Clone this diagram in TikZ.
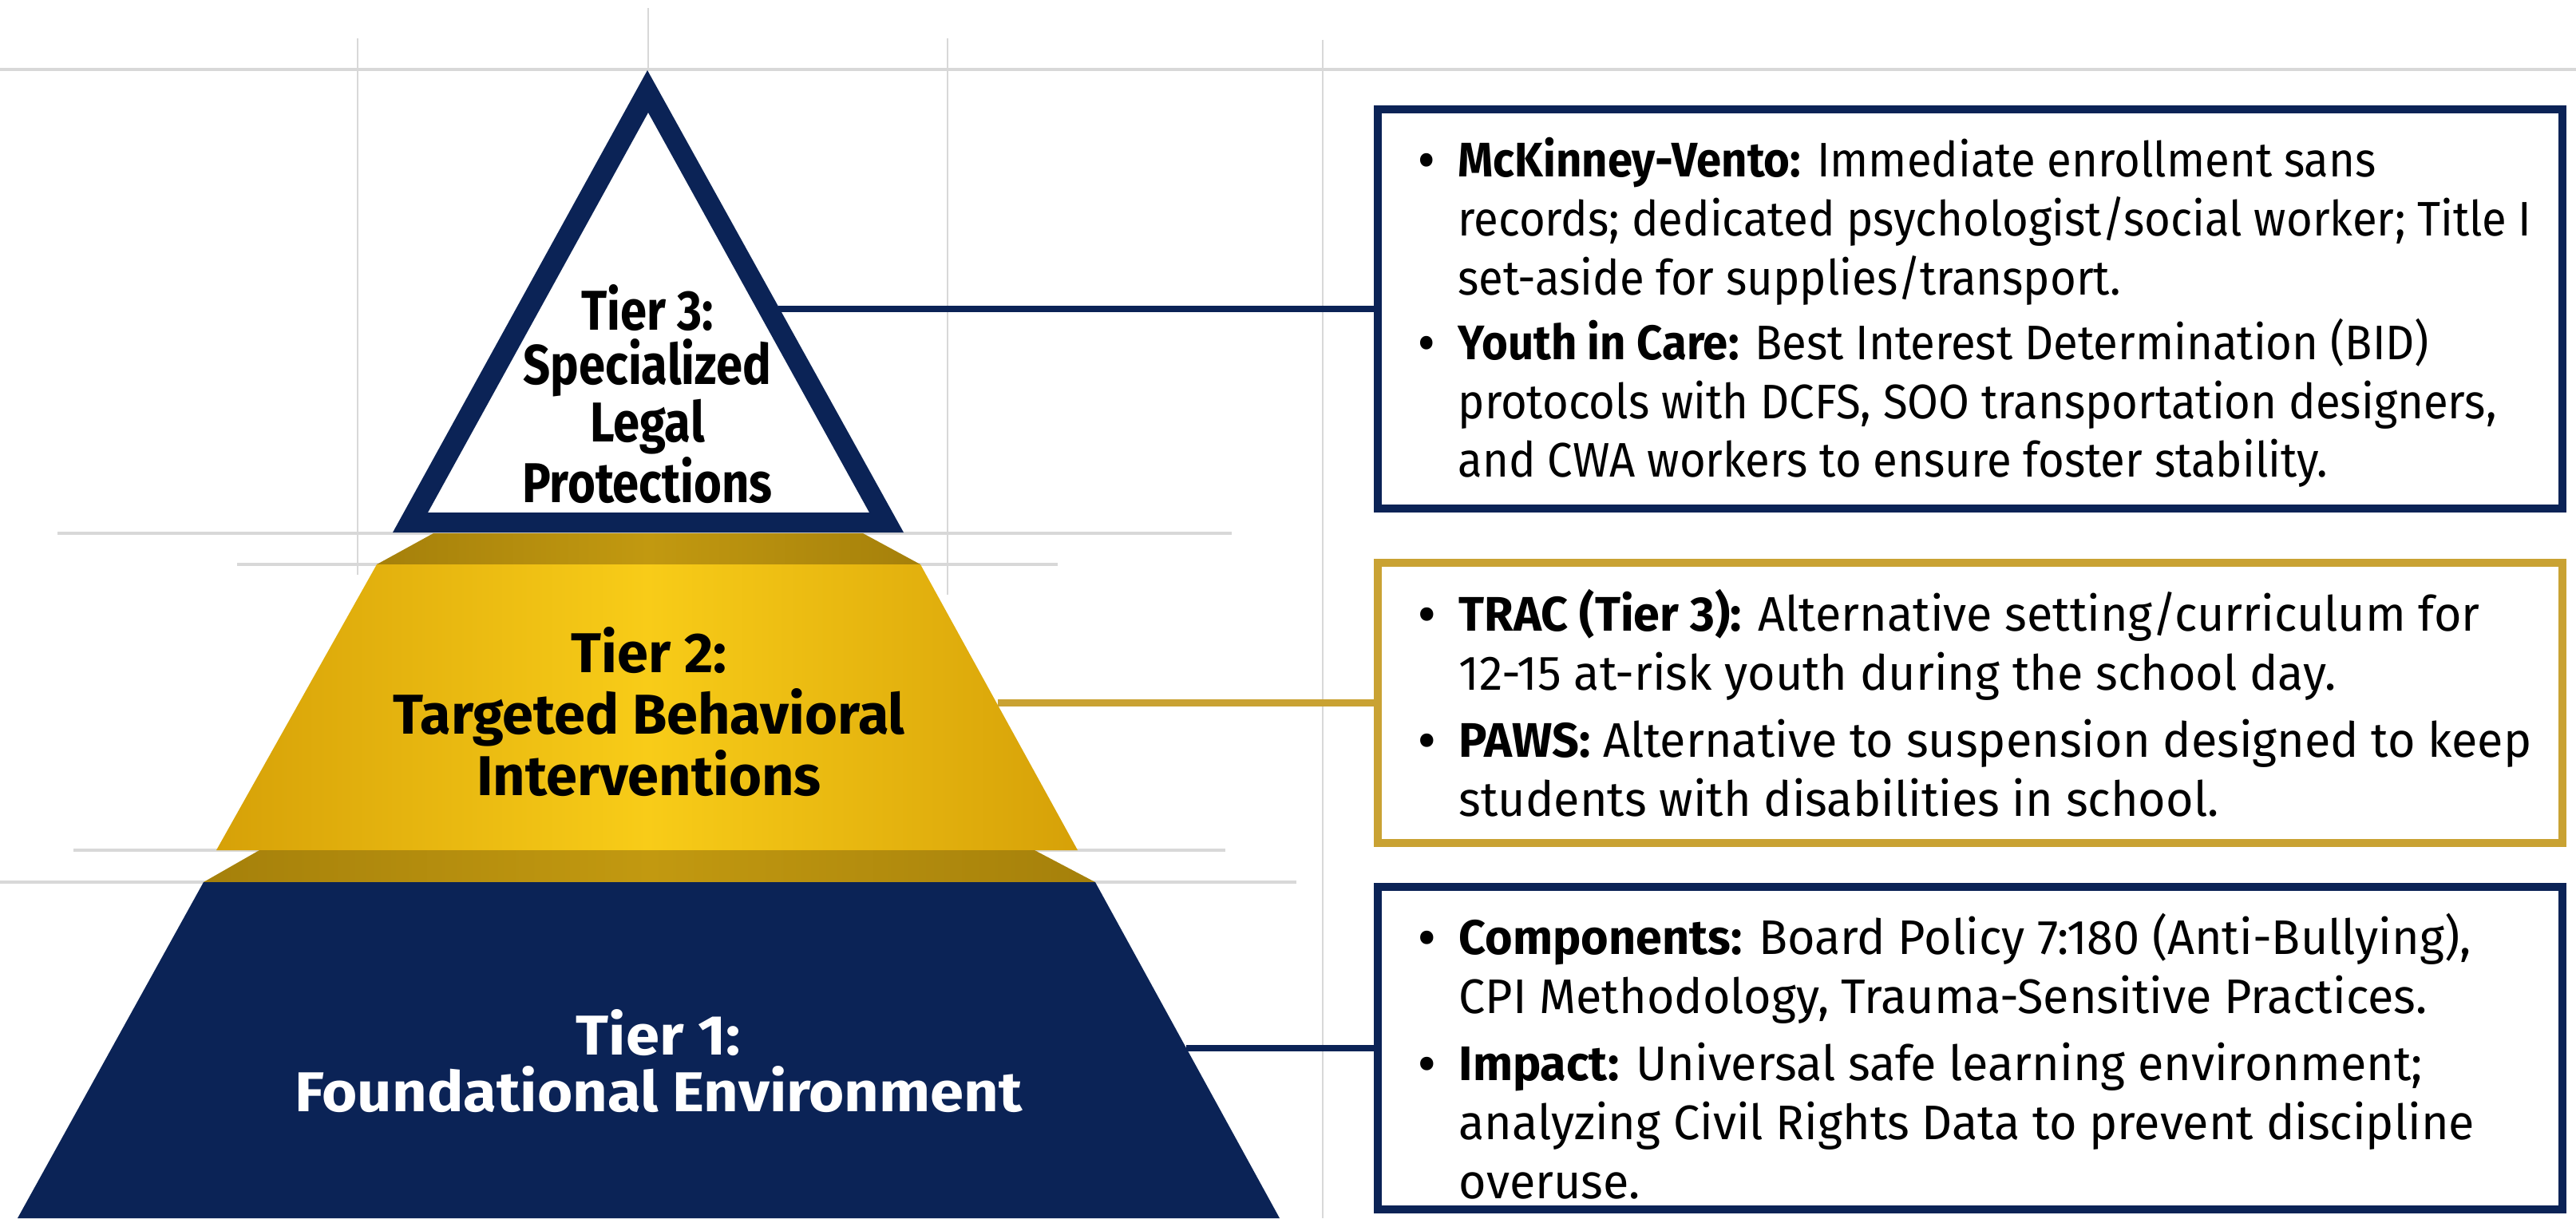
\documentclass[tikz,border=0pt]{standalone}
\usepackage{fontspec}
\setmainfont{Fira Sans}[FakeStretch=0.925]
\newfontfamily\widebodyfont{Fira Sans}[FakeStretch=0.975]
\newfontfamily\tierthreefont{Fira Sans}[FakeStretch=0.85]
\newfontfamily\tiertwofont{Fira Sans}
\newfontfamily\tieronefont{Fira Sans}[FakeStretch=1.08]
\usetikzlibrary{positioning}
\definecolor{navy}{HTML}{0B2356}
\definecolor{gold}{HTML}{C9A233}
\definecolor{goldlight}{HTML}{F8CC18}
\definecolor{golddark}{HTML}{D6A108}
\definecolor{goldshadow}{HTML}{A5800B}
\definecolor{goldmid}{HTML}{C29910}
\definecolor{guidegray}{HTML}{D8D8D8}
\begin{document}
\begin{tikzpicture}[
    guide/.style={draw=guidegray, line width=1pt},
    vguide/.style={draw=guidegray, line width=0.6pt},
    tier/.style={align=center, inner sep=0pt},
    infobox/.style={draw=#1, line width=2.6pt, fill=white, minimum width=14.84cm, inner sep=0pt},
    boxtext/.style={inner sep=0pt, font=\fontsize{17.3}{21}\selectfont},
    link/.style={draw=#1, line width=2.3pt}
  ]
  \useasboundingbox (0,0) rectangle (32.27,-15.26);
  % faint guide lines
  \draw[guide] (0,-0.87) -- (32.27,-0.87);
  \draw[guide] (0.72,-6.68) -- (15.43,-6.68);
  \draw[guide] (2.97,-7.07) -- (13.25,-7.07);
  \draw[guide] (0.92,-10.65) -- (15.35,-10.65);
  \draw[guide] (0,-11.05) -- (16.24,-11.05);
  \draw[vguide] (4.48,-0.48) -- (4.48,-7.2);
  \draw[vguide] (8.12,-0.10) -- (8.12,-0.88);
  \draw[vguide] (11.87,-0.48) -- (11.87,-7.45);
  \draw[vguide] (16.57,-0.50) -- (16.57,-15.26);

  % pyramid
  \fill[navy, even odd rule] (8.11,-0.88) -- (11.32,-6.67) -- (4.92,-6.67) -- cycle
    (8.12,-1.41) -- (10.89,-6.42) -- (5.36,-6.42) -- cycle;
  \shade[left color=goldshadow, right color=goldshadow, middle color=goldmid]
    (5.43,-6.68) -- (10.81,-6.68) -- (11.53,-7.07) -- (4.72,-7.07) -- cycle;
  \shade[left color=golddark, right color=golddark, middle color=goldlight]
    (4.72,-7.07) -- (11.53,-7.07) -- (13.50,-10.65) -- (2.71,-10.65) -- cycle;
  \shade[left color=goldshadow, right color=goldshadow, middle color=goldmid]
    (3.25,-10.65) -- (12.96,-10.65) -- (13.72,-11.05) -- (2.55,-11.05) -- cycle;
  \fill[navy] (2.55,-11.05) -- (13.72,-11.05) -- (16.03,-15.26) -- (0.22,-15.26) -- cycle;

  \node[tier, font=\tierthreefont\fontsize{20}{19.2}\selectfont\bfseries] (tier3) at (8.11,-4.94)
    {Tier 3:\\Specialized\\Legal\\Protections};
  \node[tier, font=\tiertwofont\fontsize{20}{22}\selectfont\bfseries] (tier2) at (8.13,-8.915)
    {Tier 2:\\Targeted Behavioral\\Interventions};
  \node[tier, text=white, font=\tieronefont\fontsize{20}{20.2}\selectfont\bfseries] (tier1) at (8.25,-13.29)
    {Tier 1:\\Foundational Environment};

  \coordinate (t3edge) at (9.75,-3.87);
  \coordinate (t2edge) at (12.50,-8.805);
  \coordinate (t1edge) at (14.86,-13.13);

  \node[infobox=navy, minimum height=5.0cm] (box1) at (24.68,-3.87) {};
  \node[infobox=gold, minimum height=3.51cm] (box2) at (24.68,-8.805) {};
  \node[infobox=navy, minimum height=4.04cm] (box3) at (24.68,-13.13) {};

  \draw[link=navy] (t3edge) -- (box1.west);
  \draw[link=gold] (t2edge) -- (box2.west);
  \draw[link=navy] (t1edge) -- (box3.west);

  \node[boxtext, below right=0.37cm and 0.55cm of box1.north west] (text1) {%
    \begin{tabular}{@{}l@{\hspace{0.3cm}}l@{}}
      \textbf{\textbullet} & \textbf{McKinney-Vento:} Immediate enrollment sans\\
      & records; dedicated psychologist/social worker; Title I\\
      & set-aside for supplies/transport.\\[2pt]
      \textbf{\textbullet} & \textbf{Youth in Care:} Best Interest Determination (BID)\\
      & protocols with DCFS, SOO transportation designers,\\
      & and CWA workers to ensure foster stability.
    \end{tabular}};
  \node[boxtext, font=\widebodyfont\fontsize{17.3}{21}\selectfont,
        below right=0.37cm and 0.55cm of box2.north west] (text2) {%
    \begin{tabular}{@{}l@{\hspace{0.3cm}}l@{}}
      \textbf{\textbullet} & \textbf{TRAC (Tier 3):} Alternative setting/curriculum for\\
      & 12-15 at-risk youth during the school day.\\[3pt]
      \textbf{\textbullet} & \textbf{PAWS:} Alternative to suspension designed to keep\\
      & students with disabilities in school.
    \end{tabular}};
  \node[boxtext, font=\widebodyfont\fontsize{17.3}{21}\selectfont,
        below right=0.37cm and 0.55cm of box3.north west] (text3) {%
    \begin{tabular}{@{}l@{\hspace{0.3cm}}l@{}}
      \textbf{\textbullet} & \textbf{Components:} Board Policy 7:180 (Anti-Bullying),\\
      & CPI Methodology, Trauma-Sensitive Practices.\\[3pt]
      \textbf{\textbullet} & \textbf{Impact:} Universal safe learning environment;\\
      & analyzing Civil Rights Data to prevent discipline\\
      & overuse.
    \end{tabular}};
\end{tikzpicture}
\end{document}
